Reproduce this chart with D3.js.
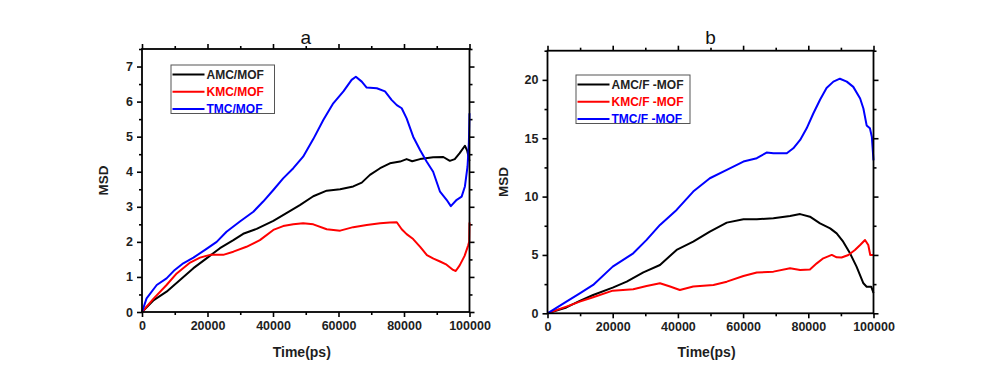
<!DOCTYPE html>
<html>
<head>
<meta charset="utf-8">
<script src="https://cdn.jsdelivr.net/npm/d3@7"></script>
<style>
  html, body { margin: 0; padding: 0; background: #fff; }
  svg { display: block; }
  text { font-family: "Liberation Sans", Arial, sans-serif; }
</style>
</head>
<body>
<svg id="chart" width="996" height="374"></svg>
<script>
// ---------- data ----------
const xTicks = [0, 20000, 40000, 60000, 80000, 100000];
const xMinorTicks = [10000, 30000, 50000, 70000, 90000];
const yTicksA = [0, 1, 2, 3, 4, 5, 6, 7];
const yMinorTicksA = [0.5, 1.5, 2.5, 3.5, 4.5, 5.5, 6.5, 7.5];
const yTicksB = [0, 5, 10, 15, 20];
const yMinorTicksB = [2.5, 7.5, 12.5, 17.5, 22.5];

const seriesNamesA = ["AMC/MOF", "KMC/MOF", "TMC/MOF"];
const seriesNamesB = ["AMC/F -MOF", "KMC/F -MOF", "TMC/F -MOF"];
const seriesColors = ["#000000", "#ff0000", "#0000ff"];
const titles = ["a", "b"];

// panel a : [time(ps), MSD]
const amcMOF = [[0,0],[3600,0.34],[7500,0.58],[11600,0.91],[15700,1.25],[19700,1.53],[23800,1.82],[27900,2.05],[30900,2.23],[35000,2.37],[40100,2.6],[44100,2.82],[48200,3.05],[52300,3.3],[56400,3.46],[60500,3.5],[64500,3.58],[67100,3.69],[69600,3.91],[72700,4.1],[75700,4.24],[78800,4.29],[80800,4.36],[82500,4.3],[84900,4.36],[88900,4.41],[92000,4.42],[94000,4.31],[95500,4.36],[97000,4.53],[98600,4.74],[99300,4.6],[99700,4.43],[100000,4.3]];
const kmcMOF = [[0,0],[3600,0.39],[7500,0.77],[10600,1.1],[14700,1.41],[17700,1.55],[20800,1.63],[24800,1.63],[27900,1.72],[31900,1.86],[36000,2.05],[40100,2.34],[43100,2.45],[46200,2.5],[49200,2.53],[52300,2.5],[56400,2.36],[60500,2.32],[64500,2.42],[68600,2.48],[72700,2.53],[75700,2.55],[77800,2.56],[79300,2.36],[80800,2.22],[82800,2.08],[85000,1.85],[87000,1.62],[89000,1.52],[91000,1.44],[93000,1.35],[95000,1.2],[95800,1.17],[97000,1.33],[98500,1.6],[99600,1.9],[99900,2.0],[100000,2.55]];
const tmcMOF = [[0,0],[1400,0.39],[4500,0.77],[7500,0.96],[10000,1.2],[12600,1.39],[15700,1.55],[19700,1.8],[22800,2.0],[25800,2.29],[29900,2.58],[34000,2.86],[37000,3.15],[40100,3.48],[43100,3.81],[46200,4.1],[49200,4.43],[52300,4.93],[55400,5.48],[58400,5.95],[61500,6.29],[64000,6.62],[65300,6.71],[67100,6.57],[68600,6.4],[71700,6.38],[74200,6.29],[76200,6.05],[77800,5.9],[79300,5.81],[80800,5.52],[82800,5.0],[84900,4.62],[86900,4.29],[88900,4.0],[91000,3.43],[93000,3.2],[94300,3.02],[96100,3.2],[97600,3.29],[98600,3.58],[99400,4.15],[99800,4.8],[100000,5.67]];

// panel b : [time(ps), MSD]
const amcFMOF = [[0,0],[5800,0.5],[9900,1.06],[14000,1.57],[20000,2.2],[24300,2.71],[29400,3.51],[34500,4.14],[39600,5.43],[44700,6.14],[49800,7.0],[55000,7.77],[60100,8.06],[64200,8.06],[69300,8.14],[74400,8.34],[77500,8.5],[80500,8.28],[83600,7.7],[86700,7.28],[88700,6.85],[90700,6.14],[92800,5.14],[94800,4.0],[96900,2.57],[97900,2.28],[99300,2.28],[100000,1.74]];
const kmcFMOF = [[0,0],[5800,0.57],[9900,1.0],[14000,1.37],[20000,1.94],[26300,2.06],[30400,2.34],[34500,2.57],[37600,2.29],[40600,2.0],[44700,2.29],[50900,2.43],[55000,2.71],[60100,3.2],[64200,3.49],[69300,3.57],[74400,3.86],[77500,3.71],[80500,3.76],[82600,4.28],[84600,4.71],[87200,5.0],[88700,4.8],[90200,4.78],[92300,5.0],[94300,5.42],[95900,5.85],[97400,6.28],[98400,5.85],[99000,5.0],[100000,5.0]];
const tmcFMOF = [[0,0],[5800,1.0],[9900,1.71],[14000,2.43],[20000,4.0],[26300,5.14],[30400,6.29],[34500,7.57],[39600,8.86],[44700,10.43],[49800,11.57],[55000,12.29],[60100,13.0],[64200,13.29],[67200,13.77],[69300,13.71],[73400,13.71],[75400,14.14],[77500,14.85],[79500,15.85],[81500,17.1],[83600,18.3],[85600,19.3],[87700,19.85],[89700,20.1],[91800,19.85],[93800,19.4],[95900,18.4],[96900,17.55],[97900,16.1],[98900,15.85],[99500,15.1],[100000,13.1]];

// ---------- layout ----------
const panels = [
  { title: titles[0], names: seriesNamesA, series: [amcMOF, kmcMOF, tmcMOF],
    x0: 142, x1: 469.5, y0: 312, y1: 49, yMax: 7.5,
    yTicks: yTicksA, yMinor: yMinorTicksA,
    legend: { x: 171, y: 65, w: 103.5, h: 48.5 }, msdX: 103 },
  { title: titles[1], names: seriesNamesB, series: [amcFMOF, kmcFMOF, tmcFMOF],
    x0: 547.5, x1: 873.5, y0: 313.3, y1: 50.7, yMax: 22.5,
    yTicks: yTicksB, yMinor: yMinorTicksB,
    legend: { x: 576, y: 75, w: 114, h: 48.5 }, msdX: 503 }
];

const svg = d3.select("#chart");
svg.append("rect").attr("width", 996).attr("height", 374).attr("fill", "#fff");

const labelColor = "#1e1e1e";

panels.forEach(p => {
  const x = d3.scaleLinear().domain([0, 100000]).range([p.x0, p.x1]);
  const y = d3.scaleLinear().domain([0, p.yMax]).range([p.y0, p.y1]);
  const g = svg.append("g");

  const styleAxis = sel => {
    sel.select(".domain").remove();
    sel.selectAll(".tick line").attr("stroke", "#000").attr("stroke-width", 1.6);
    sel.selectAll(".tick text")
      .attr("fill", labelColor)
      .style("font-size", "12.5px")
      .style("font-weight", "bold");
  };

  // bottom
  g.append("g").attr("transform", `translate(0,${p.y0})`)
    .call(d3.axisBottom(x).tickValues(xTicks).tickFormat(d3.format("d")).tickSize(5).tickPadding(4))
    .call(styleAxis);
  g.append("g").attr("transform", `translate(0,${p.y0})`)
    .call(d3.axisBottom(x).tickValues(xMinorTicks).tickFormat("").tickSize(3))
    .call(styleAxis);
  // top
  g.append("g").attr("transform", `translate(0,${p.y1})`)
    .call(d3.axisTop(x).tickValues(xTicks).tickFormat("").tickSize(5))
    .call(styleAxis);
  g.append("g").attr("transform", `translate(0,${p.y1})`)
    .call(d3.axisTop(x).tickValues(xMinorTicks).tickFormat("").tickSize(3))
    .call(styleAxis);
  // left
  g.append("g").attr("transform", `translate(${p.x0},0)`)
    .call(d3.axisLeft(y).tickValues(p.yTicks).tickFormat(d3.format("d")).tickSize(5).tickPadding(4))
    .call(styleAxis);
  g.append("g").attr("transform", `translate(${p.x0},0)`)
    .call(d3.axisLeft(y).tickValues(p.yMinor).tickFormat("").tickSize(3))
    .call(styleAxis);
  // right
  g.append("g").attr("transform", `translate(${p.x1},0)`)
    .call(d3.axisRight(y).tickValues(p.yTicks).tickFormat("").tickSize(5))
    .call(styleAxis);
  g.append("g").attr("transform", `translate(${p.x1},0)`)
    .call(d3.axisRight(y).tickValues(p.yMinor).tickFormat("").tickSize(3))
    .call(styleAxis);

  // curves
  const line = d3.line().x(d => x(d[0])).y(d => y(d[1]));
  p.series.forEach((s, i) => {
    g.append("path").datum(s)
      .attr("d", line)
      .attr("fill", "none")
      .attr("stroke", seriesColors[i])
      .attr("stroke-width", 2)
      .attr("stroke-linejoin", "round");
  });

  // frame
  g.append("rect")
    .attr("x", p.x0).attr("y", p.y1)
    .attr("width", p.x1 - p.x0).attr("height", p.y0 - p.y1)
    .attr("fill", "none").attr("stroke", "#000").attr("stroke-width", 1.8);

  // legend
  const L = p.legend;
  const lg = g.append("g");
  lg.append("rect").attr("x", L.x).attr("y", L.y).attr("width", L.w).attr("height", L.h)
    .attr("fill", "#fff").attr("stroke", "#555").attr("stroke-width", 1);
  p.names.forEach((n, i) => {
    const cy = L.y + 9.5 + i * 17.3;
    lg.append("line").attr("x1", L.x + 1.5).attr("x2", L.x + 33.5)
      .attr("y1", cy).attr("y2", cy)
      .attr("stroke", seriesColors[i]).attr("stroke-width", 2);
    lg.append("text").attr("x", L.x + 35.5).attr("y", cy + 4.3)
      .attr("fill", i === 0 ? "#222" : seriesColors[i])
      .style("font-size", "12px").style("font-weight", "bold")
      .text(n);
  });

  // titles
  g.append("text").attr("x", (p.x0 + p.x1) / 2).attr("y", 44)
    .attr("text-anchor", "middle").attr("fill", "#111")
    .style("font-size", "19px").text(p.title);
  g.append("text").attr("x", (p.x0 + p.x1) / 2 - 4).attr("y", 357)
    .attr("text-anchor", "middle").attr("fill", labelColor)
    .style("font-size", "14px").style("font-weight", "bold").text("Time(ps)");
  g.append("text")
    .attr("transform", `translate(${p.msdX + 5},${(p.y0 + p.y1) / 2}) rotate(-90)`)
    .attr("text-anchor", "middle").attr("fill", labelColor)
    .style("font-size", "13.5px").style("font-weight", "bold").text("MSD");
});
</script>
</body>
</html>
